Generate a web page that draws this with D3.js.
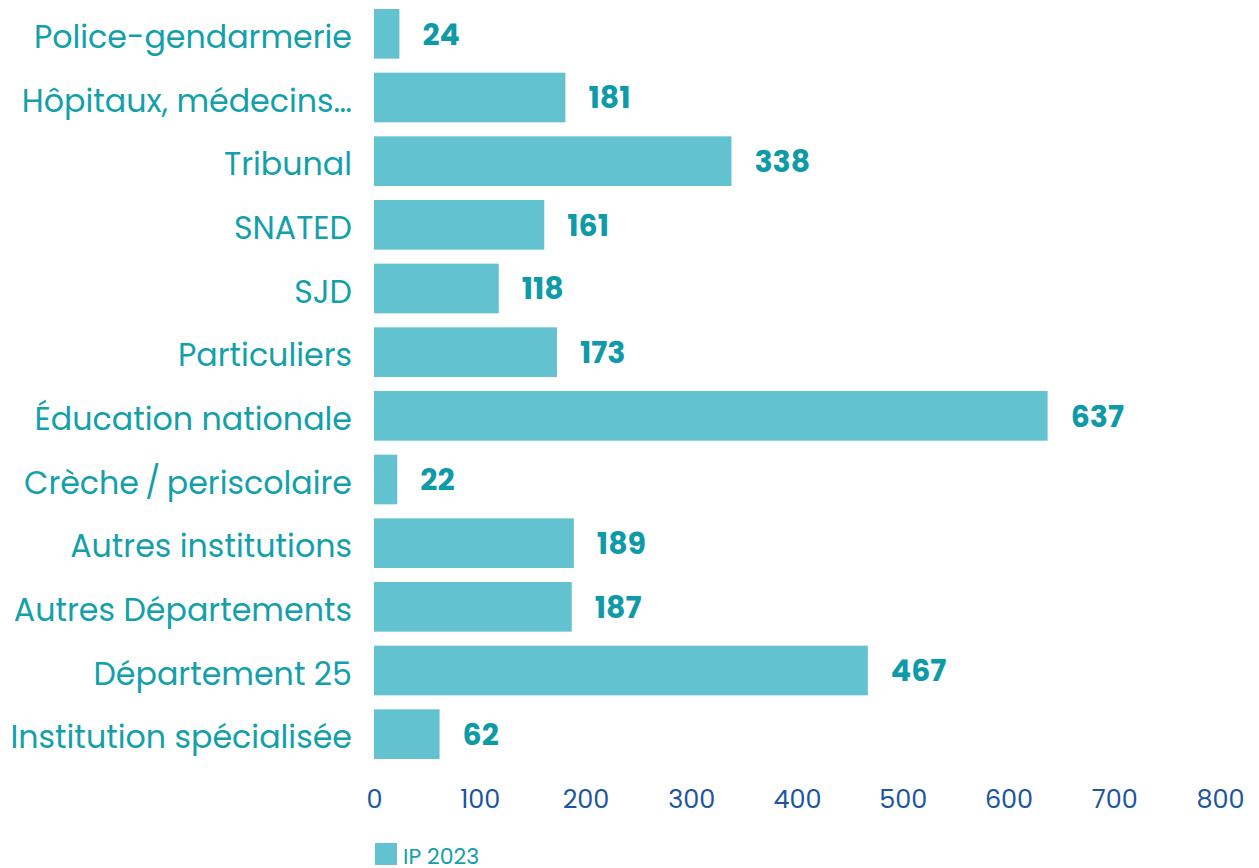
<!DOCTYPE html>
<html lang="fr">
<head>
<meta charset="utf-8">
<script src="https://cdn.jsdelivr.net/npm/d3@7"></script>
<style>
  body { margin: 0; background: #fff; }
  svg text { font-family: "Poppins", "Open Sans", "Noto Sans", sans-serif; }
</style>
</head>
<body>
<svg id="chart" width="1259" height="868"></svg>
<script>
var categories = ["Police-gendarmerie", "Hôpitaux, médecins…", "Tribunal", "SNATED", "SJD",
  "Particuliers", "Éducation nationale", "Crèche\u2009/\u2009periscolaire", "Autres institutions",
  "Autres Départements", "Département 25", "Institution spécialisée"];
var values = [24, 181, 338, 161, 118, 173, 637, 22, 189, 187, 467, 62];
var xTicks = [0, 100, 200, 300, 400, 500, 600, 700, 800];
var seriesName = "IP 2023";

var svg = d3.select("#chart");
var plotLeft = 374, plotRight = 1220, plotTop = 2, plotBottom = 766;

var x = d3.scaleLinear().domain([0, 800]).range([plotLeft, plotRight]);
var y = d3.scaleBand().domain(categories).range([plotTop, plotBottom]).paddingInner(0.22).paddingOuter(0.11);

svg.selectAll("rect.bar")
  .data(values)
  .enter()
  .append("rect")
  .attr("class", "bar")
  .attr("x", x(0))
  .attr("y", function(d, i) { return y(categories[i]); })
  .attr("width", function(d) { return x(d) - x(0); })
  .attr("height", y.bandwidth())
  .attr("fill", "#63c2cf");

// value labels
svg.selectAll("text.val")
  .data(values)
  .enter()
  .append("text")
  .attr("class", "val")
  .attr("x", function(d) { return x(d) + 23; })
  .attr("y", function(d, i) { return y(categories[i]) + y.bandwidth() / 2; })
  .attr("dy", "0.36em")
  .attr("font-size", 30)
  .attr("font-weight", "bold")
  .attr("fill", "#0f9aa8")
  .text(function(d) { return d; });

// category labels
var yAxis = svg.append("g")
  .attr("transform", "translate(" + (plotLeft - 22) + ",4)")
  .call(d3.axisLeft(y).tickSize(0).tickPadding(0));
yAxis.select(".domain").remove();
yAxis.selectAll("text")
  .attr("font-size", 31.7)
  .attr("fill", "#13a0ab")
  .style("font-family", "\"Poppins\", \"Open Sans\", \"Noto Sans\", sans-serif");

// x axis
var xAxis = svg.append("g")
  .attr("transform", "translate(0,790)")
  .call(d3.axisBottom(x).tickValues(xTicks).tickSize(0).tickPadding(0));
xAxis.select(".domain").remove();
xAxis.selectAll("text")
  .attr("font-size", 25.5)
  .attr("fill", "#1b55a0")
  .attr("dy", "0.71em")
  .style("font-family", "\"Poppins\", \"Open Sans\", \"Noto Sans\", sans-serif");

// legend
var legend = svg.append("g").attr("transform", "translate(375,843)");
legend.append("rect").attr("width", 22).attr("height", 22).attr("fill", "#63c2cf");
legend.append("text")
  .attr("x", 28).attr("y", 21)
  .attr("font-size", 22)
  .attr("fill", "#13a0ab")
  .text(seriesName);
</script>
</body>
</html>
